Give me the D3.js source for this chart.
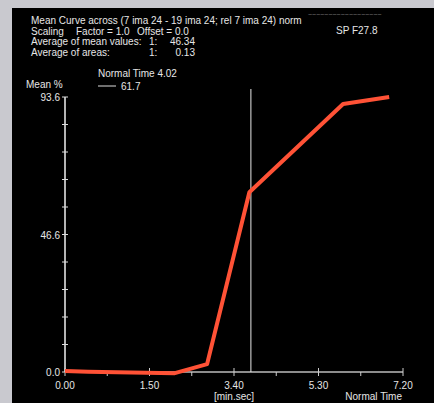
<!DOCTYPE html>
<html>
<head>
<meta charset="utf-8">
<script src="https://cdn.jsdelivr.net/npm/d3@7"></script>
<style>
  body { margin: 0; background: #c9c9cf; }
  svg { display: block; }
  text { font-family: "Liberation Sans", "DejaVu Sans", sans-serif; font-size: 10px; fill: #e6e6e6; }
</style>
</head>
<body>
<svg width="434" height="403"></svg>
<script>
// time in seconds, mean value in %
var times = [0, 30, 143, 185, 240, 362, 422],
    means = [0.3, 0.1, -0.4, 2.7, 61.2, 91.2, 93.6];

var xTicks = [0, 55, 110, 165, 220, 275, 330, 385, 440],
    xLabels = [0, 110, 220, 330, 440];
var yLabelVals = [0, 46.6, 93.6],
    yLabels = ["0.0", "46.6", "93.6"];

// header pieces: [text, x, row, anchor]
var headerItems = [
  ["Mean Curve across (7 ima 24 - 19 ima 24;  rel 7 ima 24) norm", 31, 0, "start"],
  ["Scaling", 31, 1, "start"],
  ["Factor = 1.0", 76, 1, "start"],
  ["Offset = 0.0", 137, 1, "start"],
  ["Average of mean values:", 31, 2, "start"],
  ["1:", 149, 2, "start"],
  ["46.34", 195, 2, "end"],
  ["Average of areas:", 31, 3, "start"],
  ["1:", 149, 3, "start"],
  ["0.13", 195, 3, "end"]
];

var normalTime = 242, normalValue = "61.7";

var svg = d3.select("svg");

svg.append("rect").attr("x", 12).attr("y", 8).attr("width", 422).attr("height", 395).attr("fill", "#000");

var x = d3.scaleLinear().domain([0, 440]).range([65, 403]);
var y = d3.scaleLinear().domain([0, 93.6]).range([372, 97]);

function minsec(s) {
  var m = Math.floor(s / 60), r = s % 60;
  return m + "." + (r < 10 ? "0" : "") + r;
}

// header text
svg.selectAll(".head").data(headerItems).enter().append("text")
  .attr("x", function(d) { return d[1]; })
  .attr("y", function(d) { return 24 + d[2] * 10.7; })
  .attr("text-anchor", function(d) { return d[3]; })
  .text(function(d) { return d[0]; });
svg.append("text").attr("x", 336).attr("y", 34).text("SP F27.8");
svg.append("text").attr("x", 308).attr("y", 17).style("font-size", "7px").style("fill", "#777")
  .text("~~~~~~~~~~~~~~~~~~");

// y axis
var yTicks = d3.range(11).map(function(i) { return i * 9.36; });
svg.append("line").attr("x1", 65).attr("x2", 65).attr("y1", y(93.6)).attr("y2", y(0))
  .attr("stroke", "#f0f0f0").attr("stroke-width", 1.5);
svg.selectAll(".ytick").data(yTicks).enter().append("line")
  .attr("x1", 62).attr("x2", 68)
  .attr("y1", function(d) { return y(d); }).attr("y2", function(d) { return y(d); })
  .attr("stroke", "#ddd");
svg.selectAll(".ylab").data(yLabelVals).enter().append("text")
  .attr("x", 60).attr("y", function(d) { return y(d) + 4; })
  .attr("text-anchor", "end")
  .text(function(d, i) { return yLabels[i]; });
svg.append("text").attr("x", 26).attr("y", 88).text("Mean %");

// x axis
svg.append("line").attr("x1", x(0)).attr("x2", x(440)).attr("y1", y(0)).attr("y2", y(0))
  .attr("stroke", "#bbb").attr("stroke-width", 1.5);
svg.selectAll(".xtick").data(xTicks).enter().append("line")
  .attr("x1", function(d) { return x(d); }).attr("x2", function(d) { return x(d); })
  .attr("y1", function(d) { return xLabels.indexOf(d) >= 0 ? y(0) - 4 : y(0); })
  .attr("y2", y(0) + 4)
  .attr("stroke", "#ccc");
svg.selectAll(".xlab").data(xLabels).enter().append("text")
  .attr("x", function(d) { return x(d); }).attr("y", 389)
  .attr("text-anchor", "middle")
  .text(minsec);
svg.append("text").attr("x", x(220)).attr("y", 400).attr("text-anchor", "middle").text("[min.sec]");
svg.append("text").attr("x", 402).attr("y", 400).attr("text-anchor", "end").text("Normal Time");

// normal time marker
svg.append("line").attr("x1", x(normalTime)).attr("x2", x(normalTime)).attr("y1", 89).attr("y2", y(0))
  .attr("stroke", "#e8e8e8").attr("stroke-width", 1);
svg.append("text").attr("x", 98).attr("y", 77).text("Normal Time " + minsec(normalTime));
svg.append("line").attr("x1", 98).attr("x2", 116).attr("y1", 86).attr("y2", 86).attr("stroke", "#ddd");
svg.append("text").attr("x", 121).attr("y", 90).text(normalValue);

// curve
var line = d3.line()
  .x(function(d, i) { return x(times[i]); })
  .y(function(d) { return y(d); });
svg.append("path").datum(means)
  .attr("d", line)
  .attr("fill", "none")
  .attr("stroke", "#ff5236")
  .attr("stroke-width", 4)
  .attr("stroke-linejoin", "round");
</script>
</body>
</html>
